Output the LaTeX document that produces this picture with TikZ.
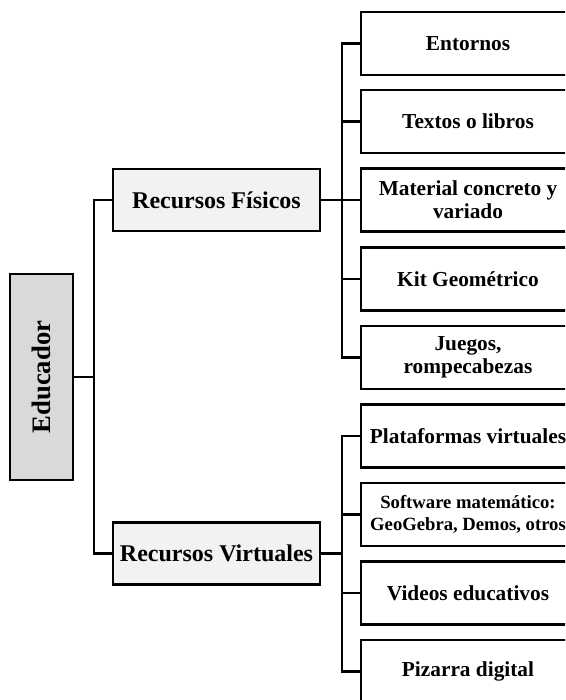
\documentclass[tikz,border=0pt]{standalone}
\usepackage{fontspec}
\setmainfont{Liberation Serif}
\usetikzlibrary{positioning}
\definecolor{edugrey}{HTML}{D9D9D9}
\definecolor{recgrey}{HTML}{F2F2F2}
\tikzset{
    box/.style={draw=black, line width=1.6pt, inner sep=0pt, align=center},
    edubox/.style={box, fill=edugrey, minimum width=47.25pt, minimum height=154.5pt},
    recbox/.style={box, fill=recgrey, minimum width=155.25pt, minimum height=46.5pt,
        font=\bfseries\fontsize{18}{20}\selectfont},
    itembox/.style={box, fill=white, minimum width=160.5pt, minimum height=47.25pt,
        font=\bfseries\fontsize{16}{17}\selectfont},
    conn/.style={line width=1.6pt}
}

\begin{document}
\begin{tikzpicture}[x=0.75pt, y=-0.75pt]
    \path[use as bounding box, fill=white] (0,0) rectangle (565,700);
    \clip (0,0) rectangle (565,700);

    % raiz
    \node[edubox, label={[rotate=90, font=\bfseries\fontsize{20}{22}\selectfont]center:Educador}] (edu) at (41.5,377) {};

    % recursos
    \node[recbox] (fis) at (216.5,200) {Recursos F\'isicos};
    \node[recbox] (vir) at (216.5,553.5) {Recursos Virtuales};

    % recursos fisicos
    \node[itembox] (ent) at (468,43.5) {Entornos};
    \node[itembox] (tex) at (468,121.5) {Textos o libros};
    \node[itembox] (mat) at (468,200) {Material concreto y\\variado};
    \node[itembox] (kit) at (468,279) {Kit Geom\'etrico};
    \node[itembox] (jue) at (468,357.5) {Juegos,\\rompecabezas};

    % recursos virtuales
    \node[itembox] (pla) at (468,436) {Plataformas virtuales};
    \node[itembox, font=\bfseries\fontsize{14}{17}\selectfont] (sof) at (468,514.5) {Software matem\'atico:\\GeoGebra, Demos, otros};
    \node[itembox] (vid) at (468,593) {Videos educativos};
    \node[itembox] (piz) at (468,671.5) {Pizarra digital};

    % conectores
    \draw[conn] (edu.east) -- ++(20,0) coordinate (tr) |- (fis.west);
    \draw[conn] (tr) |- (vir.west);

    \draw[conn] (fis.east) -- ++(21,0) coordinate (trf);
    \draw[conn] (trf) |- (ent.west);
    \draw[conn] (trf) |- (tex.west);
    \draw[conn] (trf) |- (mat.west);
    \draw[conn] (trf) |- (kit.west);
    \draw[conn] (trf) |- (jue.west);

    \draw[conn] (vir.east) -- ++(21,0) coordinate (trv);
    \draw[conn] (trv) |- (pla.west);
    \draw[conn] (trv) |- (sof.west);
    \draw[conn] (trv) |- (vid.west);
    \draw[conn] (trv) |- (piz.west);
\end{tikzpicture}
\end{document}
